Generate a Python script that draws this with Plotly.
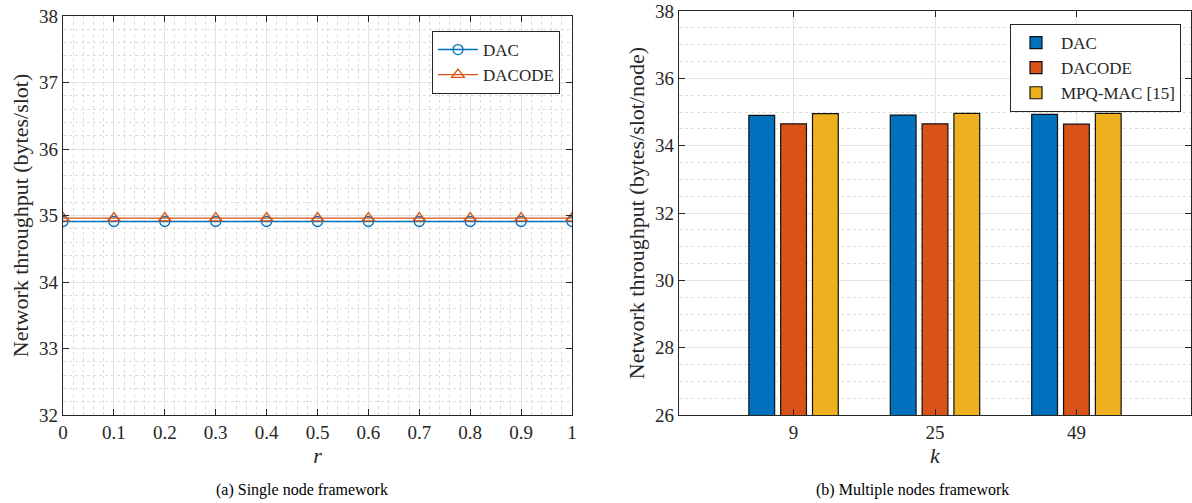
import plotly.graph_objects as go

# ---- data ----
r_values = [0, 0.1, 0.2, 0.3, 0.4, 0.5, 0.6, 0.7, 0.8, 0.9, 1.0]
dac_single = [34.91] * 11
dacode_single = [34.96] * 11

k_labels = ["9", "25", "49"]
k_pos = [1, 2, 3]
dac_multi = [34.90, 34.91, 34.93]
dacode_multi = [34.65, 34.65, 34.64]
mpq_multi = [34.95, 34.96, 34.96]

x_ticks_left = [0, 0.1, 0.2, 0.3, 0.4, 0.5, 0.6, 0.7, 0.8, 0.9, 1]
x_ticktext_left = ["0", "0.1", "0.2", "0.3", "0.4", "0.5", "0.6", "0.7", "0.8", "0.9", "1"]

BLUE = "#0072BD"
ORANGE = "#D95319"
YELLOW = "#EDB120"
AX = "#262626"
GRID = "#e3e3e3"
MINOR = "#dcdcdc"
FONT = "Liberation Serif"

W, H = 1192, 503

fig = go.Figure()

fig.add_trace(go.Scatter(
    x=r_values, y=dac_single, name="DAC", mode="lines+markers",
    line=dict(color=BLUE, width=1.4),
    marker=dict(symbol="circle-open", size=10, color=BLUE, line=dict(width=1.3)),
    xaxis="x", yaxis="y", legend="legend"))
fig.add_trace(go.Scatter(
    x=r_values, y=dacode_single, name="DACODE", mode="lines+markers",
    line=dict(color=ORANGE, width=1.4),
    marker=dict(symbol="triangle-up-open", size=11, color=ORANGE, line=dict(width=1.3)),
    xaxis="x", yaxis="y", legend="legend"))

for name, vals, col in [("DAC", dac_multi, BLUE), ("DACODE", dacode_multi, ORANGE),
                        ("MPQ-MAC [15]", mpq_multi, YELLOW)]:
    fig.add_trace(go.Bar(
        x=k_pos, y=vals, name=name, marker=dict(color=col, line=dict(color="#111111", width=1.2)),
        xaxis="x2", yaxis="y2", legend="legend2"))

common_axis = dict(
    showline=True, linecolor=AX, linewidth=1.2, mirror="allticks",
    ticks="inside", ticklen=6, tickcolor=AX, tickwidth=1,
    showgrid=True, gridcolor=GRID, gridwidth=1, zeroline=False,
    automargin=False, ticklabeloverflow="allow",
    tickfont=dict(family=FONT, size=19, color=AX),
)

fig.update_layout(
    template="none",
    width=W, height=H,
    margin=dict(l=0, r=0, t=0, b=0, autoexpand=False),
    paper_bgcolor="white", plot_bgcolor="white",
    barmode="group", bargap=0.325, bargroupgap=0.19,
    font=dict(family=FONT, color=AX),
    xaxis=dict(domain=[63 / W, 572 / W], range=[0, 1], anchor="y",
               tickvals=x_ticks_left, ticktext=x_ticktext_left,
               minor=dict(dtick=0.02, showgrid=True, gridcolor=MINOR, griddash="dot", gridwidth=1, ticks=""),
               title=dict(text="<i>r</i>", font=dict(family=FONT, size=22, color=AX), standoff=4),
               **common_axis),
    yaxis=dict(domain=[1 - 415 / H, 1 - 16 / H], range=[32, 38], anchor="x",
               dtick=1,
               minor=dict(dtick=0.2, showgrid=True, gridcolor=MINOR, griddash="dot", gridwidth=1, ticks=""),
               title=dict(text="Network throughput (bytes/slot)", font=dict(family=FONT, size=22, color=AX), standoff=4),
               **common_axis),
    xaxis2=dict(domain=[679 / W, 1191 / W], range=[0.19, 3.81], anchor="y2",
                tickvals=k_pos, ticktext=k_labels,
                title=dict(text="<i>k</i>", font=dict(family=FONT, size=22, color=AX), standoff=4),
                **common_axis),
    yaxis2=dict(domain=[1 - 415 / H, 1 - 11 / H], range=[26, 38], anchor="x2",
                dtick=2,
                minor=dict(dtick=0.5, showgrid=True, gridcolor=MINOR, griddash="dot", gridwidth=1, ticks=""),
                title=dict(text="Network throughput (bytes/slot/node)", font=dict(family=FONT, size=22, color=AX), standoff=4),
                **common_axis),
    legend=dict(x=560 / W, y=1 - 31 / H, xanchor="right", yanchor="top",
                bgcolor="white", bordercolor=AX, borderwidth=1,
                font=dict(family=FONT, size=17, color=AX),
                tracegroupgap=0, itemwidth=40),
    legend2=dict(x=1181 / W, y=1 - 24 / H, xanchor="right", yanchor="top",
                 bgcolor="white", bordercolor=AX, borderwidth=1,
                 font=dict(family=FONT, size=17, color=AX),
                 tracegroupgap=0, itemwidth=40),
    showlegend=True,
    annotations=[
        dict(text="(a) Single node framework", x=302 / W, y=1 - 490 / H, xref="paper", yref="paper",
             showarrow=False, font=dict(family=FONT, size=16, color="black"), xanchor="center", yanchor="middle"),
        dict(text="(b) Multiple nodes framework", x=912 / W, y=1 - 490 / H, xref="paper", yref="paper",
             showarrow=False, font=dict(family=FONT, size=16, color="black"), xanchor="center", yanchor="middle"),
    ],
)

fig.write_html("out.html")
